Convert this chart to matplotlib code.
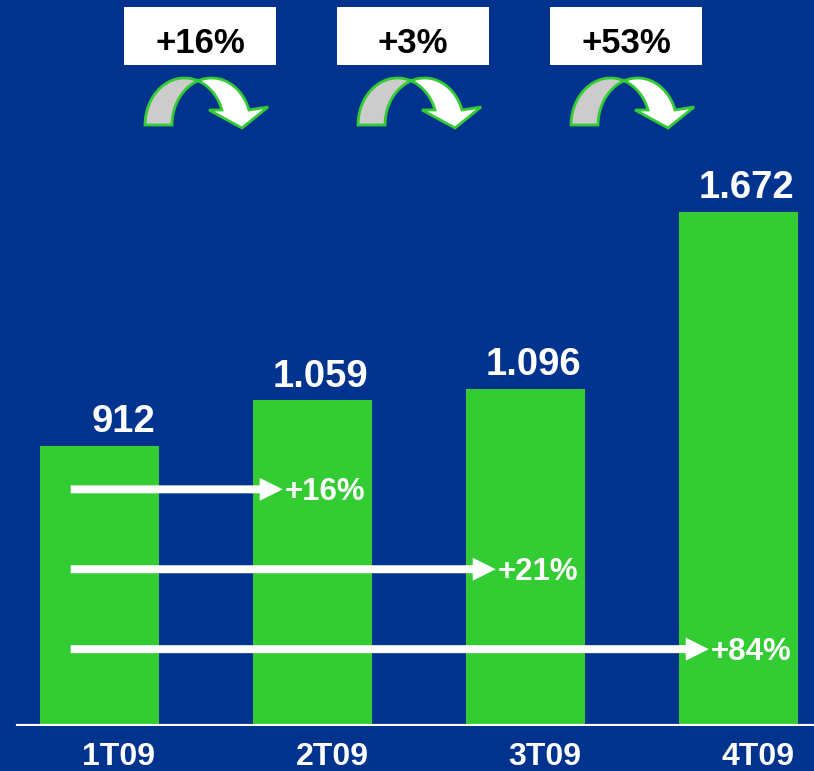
import numpy as np
import matplotlib
matplotlib.use('Agg')
import matplotlib.pyplot as plt
from matplotlib.patches import Polygon, Rectangle, FancyArrow

# datos trimestrales
trimestres = ['1T09', '2T09', '3T09', '4T09']
valores = [912, 1059, 1096, 1672]
var_trimestral = ['+16%', '+3%', '+53%']
var_vs_1t = ['+16%', '+21%', '+84%']

plt.rcParams['font.family'] = ['Liberation Sans', 'DejaVu Sans']
plt.rcParams['font.weight'] = 'bold'

FONDO = '#00338D'
VERDE = '#33CC33'
GRIS = '#CCCCCC'

W, H = 814, 771
fig = plt.figure(figsize=(W / 100, H / 100), dpi=100, facecolor=FONDO)

ax = fig.add_axes([0, 45 / H, 1, 726 / H])
ax.set_facecolor(FONDO)
x = np.arange(len(trimestres))
ax.bar(x, valores, width=0.56, color=VERDE, zorder=2)
ax.set_xlim(-0.467, 3.354)
ax.set_ylim(0, 2362)
ax.axis('off')
ax.axhline(0, xmin=18 / W, xmax=1, color='white', lw=3, zorder=3)

# etiquetas de valor, alineadas a la derecha sobre cada barra
for xi, v in zip(x, valores):
    ax.annotate(f'{v:,}'.replace(',', '.'), (xi, v), xytext=(40, 10),
                textcoords='offset points', ha='right', va='baseline',
                color='white', fontsize=27.5, fontweight='bold')

for xi, t in zip(x, trimestres):
    ax.annotate(t, (xi, 0), xytext=(14, -28), textcoords='offset points',
                ha='center', va='baseline', color='white', fontsize=23,
                fontweight='bold', annotation_clip=False)

# capa en pixeles para cajas y flechas
ov = fig.add_axes([0, 0, 1, 1])
ov.set_xlim(0, W)
ov.set_ylim(H, 0)
ov.axis('off')
ov.patch.set_alpha(0)


def a_px(xd, yd):
    dx, dy = ax.transData.transform((xd, yd))
    return dx, H - dy


def flecha_curva(m):
    c1, c2 = m - 21.5, m + 5.5
    rx, ry, yb = 39.5, 47, 125
    ti = np.arccos(13.5 / rx)
    tb = np.arcsin(15 / ry)

    def elipse(c, t):
        return np.column_stack([c + rx * np.cos(t), yb - ry * np.sin(t)])

    gris = np.vstack([elipse(c1, np.linspace(np.pi, ti, 40)),
                      elipse(c2, np.linspace(np.pi - ti, np.pi, 40))])
    cabeza = np.array([[m + 3, 110], [m + 36, 128], [m + 62, 107]])
    blanco = np.vstack([elipse(c1, np.linspace(ti, tb, 30)), cabeza,
                        elipse(c2, np.linspace(tb, np.pi - ti, 40))])
    ov.add_patch(Polygon(gris, closed=True, fc=GRIS, ec=VERDE, lw=2, joinstyle='miter'))
    ov.add_patch(Polygon(blanco, closed=True, fc='white', ec=VERDE, lw=2, joinstyle='miter'))


for i, lab in enumerate(var_trimestral):
    m = a_px(i + 0.5, 0)[0]
    bx = m - 6
    ov.add_patch(Rectangle((bx - 76, 7), 152, 58, fc='white', ec='none'))
    ov.text(bx, 53, lab, ha='center', va='baseline', color='black',
            fontsize=25, fontweight='bold')
    flecha_curva(m)

# flechas de crecimiento frente a 1T09
niveles = [770, 510, 250]
for k, lab in enumerate(var_vs_1t):
    x0, y = a_px(-0.135, niveles[k])
    x1, _ = a_px(k + 1 - 0.14, niveles[k])
    ov.add_patch(FancyArrow(x0, y, x1 - x0, 0, width=8, head_width=23,
                            head_length=23, length_includes_head=True,
                            fc='white', ec='none', zorder=4))
    ov.text(x1 + 2, y + 10.5, lab, ha='left', va='baseline', color='white',
            fontsize=22.5, fontweight='bold', zorder=5)

fig.savefig('out.png', dpi=100, facecolor=FONDO)
